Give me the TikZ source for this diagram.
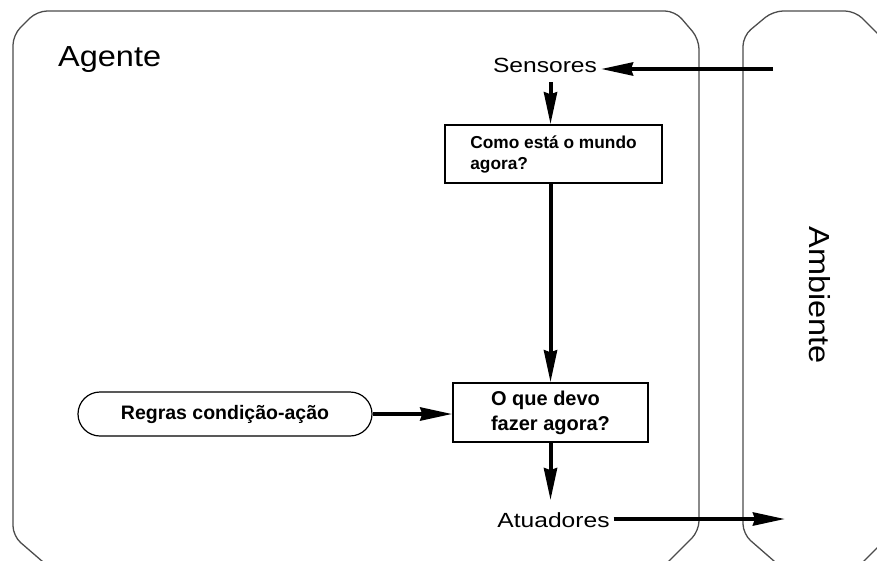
\documentclass[tikz,border=0pt]{standalone}
\usepackage{fontspec}
\setmainfont{Liberation Sans}
\newfontfamily\widesans[FakeStretch=1.2]{Liberation Sans}
\newfontfamily\titlesans[FakeStretch=1.12]{Liberation Sans}
\usetikzlibrary{arrows.meta}
\begin{document}
\begin{tikzpicture}[x=1pt,y=-1pt,
  frame/.style={draw=black!70, line width=1.3pt, rounded corners=10pt},
  box/.style={draw, line width=1.4pt, inner ysep=0pt},
  lbl/.style={inner sep=0pt, outer sep=4pt, font=\widesans\fontsize{20.5}{24}\selectfont},
  title/.style={inner sep=0pt, font=\titlesans\fontsize{29}{34}\selectfont},
  arr/.style={line width=4pt, -{Stealth[length=32pt,width=13pt,inset=2pt]}}]

\useasboundingbox (0,0) rectangle (877,560);
\clip (0,0) rectangle (877,560);

% agent and environment outlines
\draw[frame] (13,300) -- (13,35) -- (37,11) -- (675,11) -- (699,39) -- (699,531)
  -- (662,568) -- (50,568) -- (13,536) -- cycle;
\draw[frame] (743,300) -- (743,36) -- (773,11) -- (855,11) -- (885,41) -- (885,540)
  -- (857,568) -- (782,568) -- (743,534) -- cycle;

% labels
\node[title, anchor=base west] (agente) at (58,66) {Agente};
\node[title, rotate=-90] (ambiente) at (820,295) {Ambiente};
\node[lbl, anchor=base] (sensores) at (545,72) {Sensores};
\node[lbl, anchor=base] (atuadores) at (553.5,527) {Atuadores};

% processing boxes
\node[box, minimum width=217pt, minimum height=58pt, align=left,
  font=\bfseries\fontsize{17.3}{21}\selectfont] (mundo) at (553.5,154)
  {Como está o mundo\\agora?};
\node[box, minimum width=195pt, minimum height=59pt, align=left,
  font=\bfseries\fontsize{20}{25}\selectfont] (fazer) at (550.5,412.5)
  {O que devo\\fazer agora?};
\node[box, line width=1.2pt, rounded corners=22pt, minimum width=294pt, minimum height=44pt,
  font=\bfseries\fontsize{19.5}{23}\selectfont] (regras) at (225,414)
  {Regras condição-ação};

% free ends in the environment
\coordinate (envIn) at (773,69);
\coordinate (envOut) at (785,519);

% connectors
\draw[arr] (envIn) -- (sensores.east |- envIn);
\draw[arr, shorten <=6pt] (sensores.south -| fazer.north) -- (mundo.north -| fazer.north);
\draw[arr] (mundo.south -| fazer.north) -- (fazer.north);
\draw[arr] (regras.east) -- (regras.east -| fazer.west);
\draw[arr, shorten >=8pt] (fazer.south) -- (fazer.south |- atuadores.north);
\draw[arr] (atuadores.east |- envOut) -- (envOut);
\end{tikzpicture}
\end{document}
